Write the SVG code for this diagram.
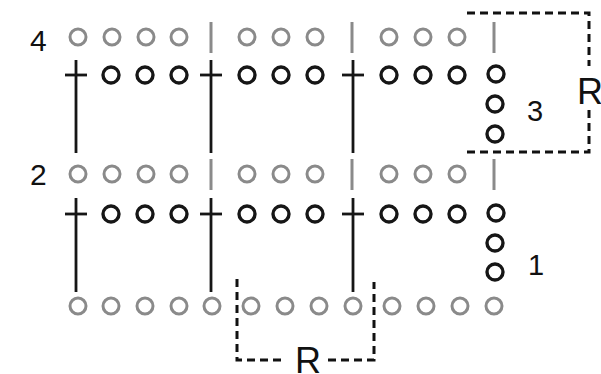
<svg xmlns="http://www.w3.org/2000/svg" width="601" height="374" viewBox="0 0 601 374">
  <style>
    .g { fill: none; stroke: #8a8a8a; stroke-width: 3; }
    .k { fill: none; stroke: #161616; stroke-width: 3.4; }
    .bar { stroke: #8a8a8a; stroke-width: 3; }
    .post { stroke: #161616; stroke-width: 2.8; }
    .dash { fill: none; stroke: #111; stroke-width: 3; stroke-dasharray: 8 5; }
    .lbl { font-family: "Liberation Sans", Arial, sans-serif; fill: #111; }
  </style>
  <defs>
    <circle id="gc" r="8" class="g"/>
    <circle id="kc" r="8" class="k"/>
  </defs>

  <rect width="601" height="374" fill="#fff"/>

  <!-- row 4 (grey) -->
  <g id="row4">
    <use href="#gc" x="78" y="37"/><use href="#gc" x="112" y="37"/><use href="#gc" x="146" y="37"/><use href="#gc" x="179" y="37"/>
    <line class="bar" x1="211" y1="22" x2="211" y2="53"/>
    <use href="#gc" x="247" y="37"/><use href="#gc" x="281" y="37"/><use href="#gc" x="315" y="37"/>
    <line class="bar" x1="352" y1="22" x2="352" y2="53"/>
    <use href="#gc" x="389" y="37"/><use href="#gc" x="423" y="37"/><use href="#gc" x="457" y="37"/>
    <line class="bar" x1="494" y1="22" x2="494" y2="53"/>
  </g>

  <!-- row 3 (black) -->
  <g id="row3">
    <line class="post" x1="76" y1="60" x2="76" y2="153"/><line class="post" x1="65" y1="75" x2="87" y2="75"/>
    <use href="#kc" x="111" y="75"/><use href="#kc" x="145" y="75"/><use href="#kc" x="179" y="75"/>
    <line class="post" x1="211" y1="60" x2="211" y2="153"/><line class="post" x1="200" y1="75" x2="222" y2="75"/>
    <use href="#kc" x="247" y="75"/><use href="#kc" x="281" y="75"/><use href="#kc" x="315" y="75"/>
    <line class="post" x1="353" y1="60" x2="353" y2="153"/><line class="post" x1="342" y1="75" x2="364" y2="75"/>
    <use href="#kc" x="389" y="75"/><use href="#kc" x="423" y="75"/><use href="#kc" x="457" y="75"/>
    <use href="#kc" x="496" y="74"/><use href="#kc" x="495" y="104"/><use href="#kc" x="495" y="134"/>
  </g>

  <!-- row 2 (grey) -->
  <g id="row2">
    <use href="#gc" x="78" y="174"/><use href="#gc" x="112" y="174"/><use href="#gc" x="146" y="174"/><use href="#gc" x="179" y="174"/>
    <line class="bar" x1="211" y1="159" x2="211" y2="190"/>
    <use href="#gc" x="247" y="174"/><use href="#gc" x="281" y="174"/><use href="#gc" x="315" y="174"/>
    <line class="bar" x1="352" y1="159" x2="352" y2="190"/>
    <use href="#gc" x="389" y="174"/><use href="#gc" x="423" y="174"/><use href="#gc" x="457" y="174"/>
    <line class="bar" x1="494" y1="159" x2="494" y2="190"/>
  </g>

  <!-- row 1 (black) -->
  <g id="row1">
    <line class="post" x1="76" y1="198" x2="76" y2="292"/><line class="post" x1="65" y1="214" x2="87" y2="214"/>
    <use href="#kc" x="111" y="214"/><use href="#kc" x="145" y="214"/><use href="#kc" x="179" y="214"/>
    <line class="post" x1="211" y1="198" x2="211" y2="292"/><line class="post" x1="200" y1="214" x2="222" y2="214"/>
    <use href="#kc" x="247" y="214"/><use href="#kc" x="281" y="214"/><use href="#kc" x="315" y="214"/>
    <line class="post" x1="353" y1="198" x2="353" y2="292"/><line class="post" x1="342" y1="214" x2="364" y2="214"/>
    <use href="#kc" x="389" y="214"/><use href="#kc" x="423" y="214"/><use href="#kc" x="457" y="214"/>
    <use href="#kc" x="496" y="213"/><use href="#kc" x="495" y="243"/><use href="#kc" x="495" y="272"/>
  </g>

  <!-- foundation row (grey) -->
  <g id="foundation">
    <use href="#gc" x="78" y="306"/><use href="#gc" x="111" y="306"/><use href="#gc" x="145" y="306"/><use href="#gc" x="179" y="306"/><use href="#gc" x="212" y="306"/>
    <use href="#gc" x="251" y="306"/><use href="#gc" x="285" y="306"/><use href="#gc" x="319" y="306"/><use href="#gc" x="353" y="306"/>
    <use href="#gc" x="392" y="306"/><use href="#gc" x="426" y="306"/><use href="#gc" x="460" y="306"/><use href="#gc" x="494" y="306"/>
  </g>

  <!-- repeat brackets -->
  <g id="repeats">
    <path class="dash" d="M467 13 H589 V66"/>
    <path class="dash" d="M589 110 V152 H467"/>
    <path class="dash" d="M237 279 V360 H286"/>
    <path class="dash" d="M328 360 H374 V282"/>
  </g>

  <!-- labels -->
  <g id="labels">
    <text class="lbl" x="30" y="51" font-size="30">4</text>
    <text class="lbl" x="30" y="185" font-size="30">2</text>
    <text class="lbl" x="527" y="121" font-size="29">3</text>
    <text class="lbl" x="528" y="275" font-size="29">1</text>
    <text class="lbl" x="577" y="104" font-size="36">R</text>
    <text class="lbl" x="295" y="373" font-size="36">R</text>
  </g>
</svg>
